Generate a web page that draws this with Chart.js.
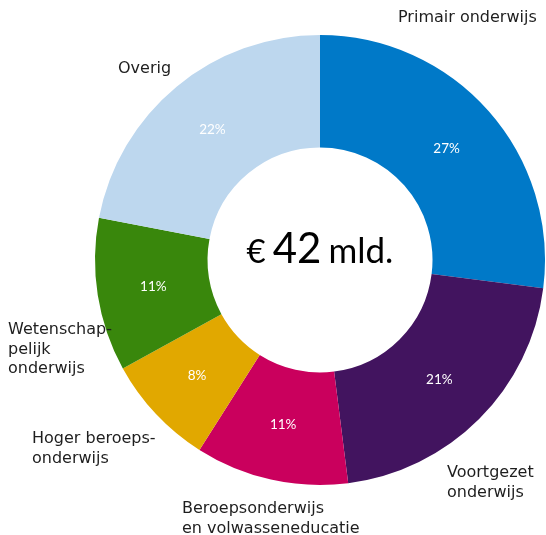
<!DOCTYPE html>
<html>
<head>
<meta charset="utf-8">
<script src="https://cdn.jsdelivr.net/npm/chart.js@4"></script>
<style>
  html, body { margin: 0; padding: 0; background: #fff; }
  #wrap { width: 546px; height: 535px; }
</style>
</head>
<body>
<div id="wrap"><canvas id="chart" width="546" height="535"></canvas></div>
<script>
// Uitgaven onderwijs naar sector (procent van totaal)
const sectors = [
  ['Primair onderwijs'],
  ['Voortgezet', 'onderwijs'],
  ['Beroepsonderwijs', 'en volwasseneducatie'],
  ['Hoger beroeps-', 'onderwijs'],
  ['Wetenschap-', 'pelijk', 'onderwijs'],
  ['Overig']
];
const shares = [27, 21, 11, 8, 11, 22];
const colors = ['#0079c8', '#42145f', '#ca005d', '#e1a800', '#39870c', '#bdd7ee'];
const totalLabel = { currency: '€', amount: '42', unit: 'mld.' };

// where each sector name goes (left edge, first baseline)
const nameSpots = [
  { x: 398, y: 22 },
  { x: 447, y: 477 },
  { x: 182, y: 513 },
  { x: 32, y: 443 },
  { x: 8, y: 334 },
  { x: 118, y: 73 }
];

const ringLabels = {
  id: 'ringLabels',
  afterDraw(chart) {
    const ctx = chart.ctx;
    const arcs = chart.getDatasetMeta(0).data;
    ctx.save();

    // percentages inside the ring
    ctx.fillStyle = '#ffffff';
    ctx.font = '13.5px Lato, "Open Sans", sans-serif';
    ctx.textAlign = 'center';
    ctx.textBaseline = 'middle';
    arcs.forEach((arc, i) => {
      const p = arc.getCenterPoint();
      ctx.fillText(shares[i] + '%', p.x, p.y);
    });

    // sector names outside
    ctx.fillStyle = '#1e1e1e';
    ctx.font = '16px "DejaVu Sans", Verdana, sans-serif';
    ctx.textAlign = 'left';
    ctx.textBaseline = 'alphabetic';
    sectors.forEach((lines, i) => {
      lines.forEach((line, j) => {
        ctx.fillText(line, nameSpots[i].x, nameSpots[i].y + j * 19.5);
      });
    });

    // total in the middle
    const c = arcs[0];
    const base = c.y + 3;
    ctx.fillStyle = '#000000';
    ctx.font = '33px Lato, sans-serif';
    const w1 = ctx.measureText(totalLabel.currency).width;
    ctx.font = '42px Lato, sans-serif';
    const w2 = ctx.measureText(totalLabel.amount).width;
    ctx.font = '35px Lato, sans-serif';
    const w3 = ctx.measureText(totalLabel.unit).width;
    const gap = 7;
    let x = c.x - (w1 + w2 + w3 + gap * 2) / 2;
    ctx.font = '33px Lato, sans-serif';
    ctx.fillText(totalLabel.currency, x, base);
    x += w1 + gap;
    ctx.font = '42px Lato, sans-serif';
    ctx.fillText(totalLabel.amount, x, base);
    x += w2 + gap;
    ctx.font = '35px Lato, sans-serif';
    ctx.fillText(totalLabel.unit, x, base);
    ctx.restore();
  }
};

new Chart(document.getElementById('chart'), {
  type: 'doughnut',
  data: {
    labels: sectors.map(s => s.join(' ')),
    datasets: [{
      data: shares,
      backgroundColor: colors,
      borderWidth: 0
    }]
  },
  options: {
    responsive: false,
    animation: false,
    cutout: '50%',
    rotation: 0,
    layout: { padding: { left: 95, right: 1, top: 35, bottom: 50 } },
    plugins: {
      legend: { display: false },
      tooltip: { enabled: false }
    }
  },
  plugins: [ringLabels]
});
</script>
</body>
</html>
